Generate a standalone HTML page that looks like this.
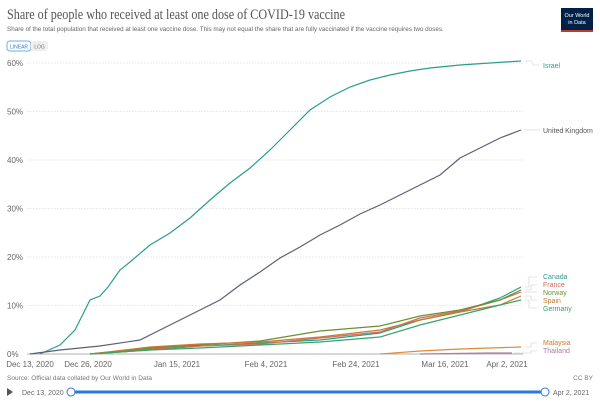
<!DOCTYPE html>
<html><head><meta charset="utf-8"><style>
body{margin:0;width:600px;height:400px;background:#fff;overflow:hidden;font-family:"Liberation Sans",sans-serif}
</style></head><body>
<svg width="600" height="400" xmlns="http://www.w3.org/2000/svg" font-family="Liberation Sans, sans-serif">
<text x="7" y="19" font-family="Liberation Serif, serif" font-size="14.5" fill="#555" textLength="338" lengthAdjust="spacingAndGlyphs">Share of people who received at least one dose of COVID-19 vaccine</text>
<text x="7" y="31" font-size="6.3" fill="#666">Share of the total population that received at least one vaccine dose. This may not equal the share that are fully vaccinated if the vaccine requires two doses.</text>
<rect x="561" y="8" width="32" height="24" fill="#002147"/><rect x="561" y="30" width="32" height="2" fill="#c0392b"/>
<text x="577" y="17" font-size="5.5" fill="#fff" text-anchor="middle">Our World</text><text x="577" y="24" font-size="5.5" fill="#fff" text-anchor="middle">in Data</text>
<rect x="7" y="41" width="24" height="10" rx="3" fill="#fff" stroke="#6ab0e8"/><rect x="31" y="41" width="17" height="10" rx="3" fill="#eee"/>
<text x="19" y="48.5" font-size="5" fill="#3a7ac0" text-anchor="middle">LINEAR</text><text x="39.5" y="48.5" font-size="5" fill="#777" text-anchor="middle">LOG</text>
<g stroke="#ddd" stroke-dasharray="1.5,1.5" stroke-width="0.7">
<line x1="27" x2="523" y1="63" y2="63"/><line x1="27" x2="523" y1="111.5" y2="111.5"/><line x1="27" x2="523" y1="160" y2="160"/><line x1="27" x2="523" y1="208.5" y2="208.5"/><line x1="27" x2="523" y1="257" y2="257"/><line x1="27" x2="523" y1="305.5" y2="305.5"/></g>
<line x1="27" x2="523" y1="354" y2="354" stroke="#999" stroke-width="0.7"/>
<g font-size="8" fill="#666"><text x="7" y="66">60%</text><text x="7" y="114.5">50%</text><text x="7" y="163">40%</text><text x="7" y="211.5">30%</text><text x="7" y="260">20%</text><text x="7" y="308.5">10%</text><text x="7" y="357">0%</text></g>
<g font-size="8" fill="#666" text-anchor="middle"><text x="30" y="367">Dec 13, 2020</text><text x="88" y="367">Dec 26, 2020</text><text x="177" y="367">Jan 15, 2021</text><text x="266" y="367">Feb 4, 2021</text><text x="356" y="367">Feb 24, 2021</text><text x="445" y="367">Mar 16, 2021</text><text x="507" y="367">Apr 2, 2021</text></g>
<g fill="none" stroke-width="1.2">
<polyline stroke="#2a9d8f" points="40,354 60,345 75,330 90,300 100,296 108,287 120,270 130,262 150,245 170,233 190,218 210,200 230,183 250,168 270,150 290,130 310,110 330,97 350,87 370,80 390,75 410,71 430,68 460,65 490,63 521,61"/>
<polyline stroke="#5b5f78" points="30,354 60,350 100,346 140,340 160,330 180,320 200,310 220,300 240,285 260,272 280,258 300,247 320,235 340,225 360,214 380,205 400,195 420,185 440,175 460,158 480,148 500,138 521,130"/>
<polyline stroke="#2a9d8f" points="90,354 150,350 200,346 260,343 320,340 380,333 420,320 460,312 500,298 521,287"/>
<polyline stroke="#d16e5b" points="90,354 150,349 200,346 260,344 320,338 380,332 420,318 460,311 500,300 521,292"/>
<polyline stroke="#6b8f2e" points="90,354 150,348 200,345 260,341 320,331 380,326 420,316 460,310 500,300 521,290"/>
<polyline stroke="#c97a30" points="90,354 150,347 200,344 260,342 320,337 380,330 420,320 460,312 500,305 521,296"/>
<polyline stroke="#3aa36a" points="90,354 150,350 200,348 260,345 320,342 380,337 420,325 460,315 500,305 521,300"/>
<polyline stroke="#e08a3a" points="380,354 420,351 460,349 490,348 521,347"/>
<polyline stroke="#b07aa1" points="420,354 490,353 512,353"/>
</g>
<g stroke="#ccc" stroke-width="0.6" fill="none">
<path d="M525,61 h6 l3,4 h6"/><path d="M525,130 h15"/>
<path d="M525,287 h4 v-10 h8"/><path d="M525,290 h6 v-5 h6"/><path d="M525,292 h12"/><path d="M525,296 h6 v4 h6"/><path d="M525,300 h4 v8 h8"/>
<path d="M525,347 h6 v-4 h6"/><path d="M514,353 h17 v-2 h6"/>
</g>
<g font-size="7"><text x="543" y="68" fill="#2a9d8f">Israel</text><text x="543" y="133" fill="#555">United Kingdom</text>
<text x="543" y="279" fill="#2a9d8f">Canada</text><text x="543" y="287" fill="#d16e5b">France</text><text x="543" y="295" fill="#6b8f2e">Norway</text><text x="543" y="303" fill="#c97a30">Spain</text><text x="543" y="311" fill="#3aa36a">Germany</text>
<text x="543" y="345" fill="#c97a30">Malaysia</text><text x="543" y="353" fill="#b07aa1">Thailand</text></g>
<text x="7" y="380" font-size="6.5" fill="#777">Source: Official data collated by Our World in Data</text>
<text x="593" y="380" font-size="6.5" fill="#777" text-anchor="end">CC BY</text>
<line x1="71" x2="545" y1="392" y2="392" stroke="#2b7ad9" stroke-width="3"/>
<circle cx="71" cy="392" r="4" fill="#fff" stroke="#2b7ad9"/><circle cx="545" cy="392" r="4" fill="#fff" stroke="#2b7ad9"/>
<text x="22" y="395" font-size="7" fill="#666">Dec 13, 2020</text><text x="553" y="395" font-size="7" fill="#666">Apr 2, 2021</text>
<path d="M7,388 l6,4 l-6,4z" fill="#555"/>
</svg>
</body></html>
